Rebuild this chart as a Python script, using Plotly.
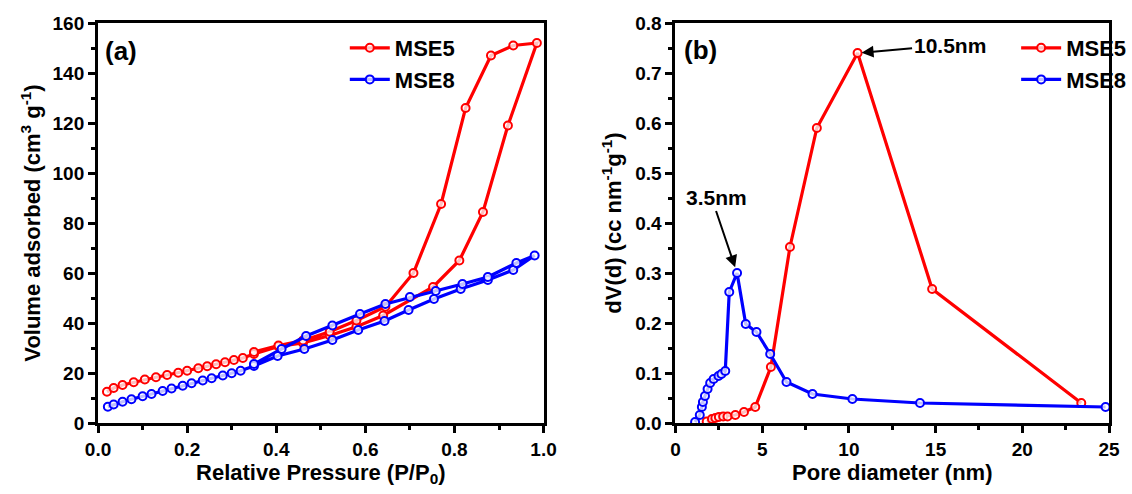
import plotly.graph_objects as go

# (a) N2 sorption isotherms: adsorption branch then desorption branch
mse5_p = [0.02, 0.035, 0.055, 0.08, 0.105, 0.13, 0.155, 0.18, 0.20, 0.225, 0.245,
          0.265, 0.285, 0.305, 0.325, 0.35, 0.405, 0.46, 0.52, 0.58, 0.64, 0.752,
          0.811, 0.864, 0.92, 0.985,
          0.932, 0.882, 0.825, 0.770, 0.708, 0.645, 0.58, 0.52, 0.46, 0.405, 0.35]
mse5_v = [12.5, 14.0, 15.2, 16.3, 17.4, 18.3, 19.2, 20.1, 20.9, 21.9, 22.7,
          23.5, 24.3, 25.2, 26.0, 27.6, 30.6, 32.0, 35.0, 38.5, 43.0, 54.4,
          65.0, 84.4, 119.0, 152.0,
          151.0, 147.0, 126.0, 87.6, 60.0, 46.5, 41.0, 36.5, 33.0, 31.0, 28.4]

mse8_p = [0.022, 0.035, 0.055, 0.075, 0.10, 0.12, 0.145, 0.165, 0.19, 0.21, 0.235,
          0.255, 0.28, 0.30, 0.32, 0.35, 0.403, 0.463, 0.526, 0.584, 0.643, 0.697,
          0.754, 0.814, 0.875, 0.932, 0.98,
          0.939, 0.875, 0.818, 0.758, 0.70, 0.645, 0.588, 0.526, 0.467, 0.412, 0.35]
mse8_v = [6.5, 7.4, 8.5, 9.5, 10.7, 11.6, 12.8, 13.8, 14.9, 15.9, 17.0,
          17.9, 19.0, 19.9, 20.9, 22.8, 26.8, 29.6, 33.2, 37.2, 40.8, 45.2,
          49.6, 53.6, 57.2, 61.2, 67.0,
          64.0, 58.4, 55.6, 52.8, 50.4, 47.6, 43.6, 39.0, 34.8, 29.6, 23.6]

# (b) pore size distributions
mse5_d = [1.8, 2.1, 2.3, 2.5, 2.75, 3.0, 3.45, 3.95, 4.6, 5.5, 6.6, 8.15, 10.5, 14.8, 23.4]
mse5_dv = [0.003, 0.008, 0.010, 0.012, 0.013, 0.013, 0.016, 0.022, 0.032, 0.112,
           0.352, 0.59, 0.74, 0.268, 0.040]

mse8_d = [1.13, 1.4, 1.52, 1.58, 1.7, 1.85, 2.0, 2.2, 2.48, 2.65, 2.87, 3.1, 3.55,
          4.05, 4.67, 5.46, 6.4, 7.9, 10.2, 14.1, 24.8]
mse8_dv = [0.002, 0.016, 0.032, 0.042, 0.054, 0.068, 0.080, 0.088, 0.094, 0.098,
           0.104, 0.262, 0.30, 0.198, 0.182, 0.138, 0.082, 0.058, 0.048, 0.040, 0.032]

RED = "#ff0000"
BLUE = "#0000ff"
FONT = "Liberation Sans"


def marker(color):
    return dict(symbol="circle", size=8, color="rgba(255,255,255,0.75)",
                line=dict(color=color, width=2))


fig = go.Figure()

fig.add_trace(go.Scatter(x=mse5_p, y=mse5_v, name="MSE5", mode="lines+markers",
                         line=dict(color=RED, width=3.2), marker=marker(RED),
                         xaxis="x", yaxis="y", legend="legend"))
fig.add_trace(go.Scatter(x=mse8_p, y=mse8_v, name="MSE8", mode="lines+markers",
                         line=dict(color=BLUE, width=3.2), marker=marker(BLUE),
                         xaxis="x", yaxis="y", legend="legend"))
fig.add_trace(go.Scatter(x=mse5_d, y=mse5_dv, name="MSE5", mode="lines+markers",
                         line=dict(color=RED, width=3.2), marker=marker(RED),
                         xaxis="x2", yaxis="y2", legend="legend2"))
fig.add_trace(go.Scatter(x=mse8_d, y=mse8_dv, name="MSE8", mode="lines+markers",
                         line=dict(color=BLUE, width=3.2), marker=marker(BLUE),
                         xaxis="x2", yaxis="y2", legend="legend2"))

tickfont = dict(family=FONT, size=19, color="black", weight="bold")
titlefont = dict(family=FONT, size=22, color="black", weight="bold")


def axis(domain, rng, dtick, minor, fmt, title, anchor, standoff):
    return dict(domain=domain, range=rng, dtick=dtick, tick0=0, tickformat=fmt,
                showline=True, linecolor="black", linewidth=3, mirror=True,
                ticks="outside", ticklen=7, tickwidth=3, tickcolor="black",
                minor=dict(ticks="outside", ticklen=4, tickwidth=3, tickcolor="black",
                           dtick=minor, tick0=0),
                showgrid=False, zeroline=False, tickfont=tickfont,
                title=dict(text=title, font=titlefont, standoff=standoff),
                anchor=anchor)


legend_font = dict(family=FONT, size=22, color="black", weight="bold")

fig.update_layout(
    width=1132, height=494,
    margin=dict(l=0, r=0, t=23, b=71),
    plot_bgcolor="white", paper_bgcolor="white",
    xaxis=axis([0.0769, 0.4797], [0, 1.0], 0.2, 0.1, ".1f",
               "Relative Pressure (P/P<sub>0</sub>)", "y", 6),
    yaxis=axis([0, 1], [0, 160], 20, 10, "d",
               "Volume adsorbed (cm<sup>3</sup> g<sup>-1</sup>)", "x", 6),
    xaxis2=axis([0.599, 0.991], [0, 25], 5, 2.5, "d",
                "Pore diameter (nm)", "y2", 6),
    yaxis2=axis([0, 1], [0, 0.8], 0.1, 0.05, ".1f",
                "dV(d) (cc nm<sup>-1</sup>g<sup>-1</sup>)", "x2", 8),
    legend=dict(x=0.30, y=0.99, xanchor="left", yanchor="top", bgcolor="rgba(0,0,0,0)",
                font=legend_font, tracegroupgap=0, itemwidth=40),
    legend2=dict(x=0.907, y=0.99, xanchor="left", yanchor="top", bgcolor="rgba(0,0,0,0)",
                 font=legend_font, tracegroupgap=0, itemwidth=40),
    showlegend=True,
)

ann_font = dict(family=FONT, size=26, color="black", weight="bold")
fig.add_annotation(text="(a)", xref="x", yref="y", x=0.012, y=149, showarrow=False,
                   xanchor="left", yanchor="middle", font=ann_font)
fig.add_annotation(text="(b)", xref="x2", yref="y2", x=0.4, y=0.747, showarrow=False,
                   xanchor="left", yanchor="middle", font=ann_font)

lab_font = dict(family=FONT, size=21, color="black", weight="bold")
fig.add_annotation(text="3.5nm", xref="x2", yref="y2", x=3.55, y=0.30,
                   ax=-21, ay=-62, showarrow=True, arrowhead=2, arrowsize=1.2,
                   arrowwidth=2, arrowcolor="black", standoff=6, font=lab_font,
                   yanchor="bottom")
fig.add_annotation(text="10.5nm", xref="x2", yref="y2", x=10.5, y=0.74,
                   ax=92, ay=-8, showarrow=True, arrowhead=2, arrowsize=1.2,
                   arrowwidth=2, arrowcolor="black", standoff=4, font=lab_font,
                   xanchor="center")

fig.write_html("out.html")
